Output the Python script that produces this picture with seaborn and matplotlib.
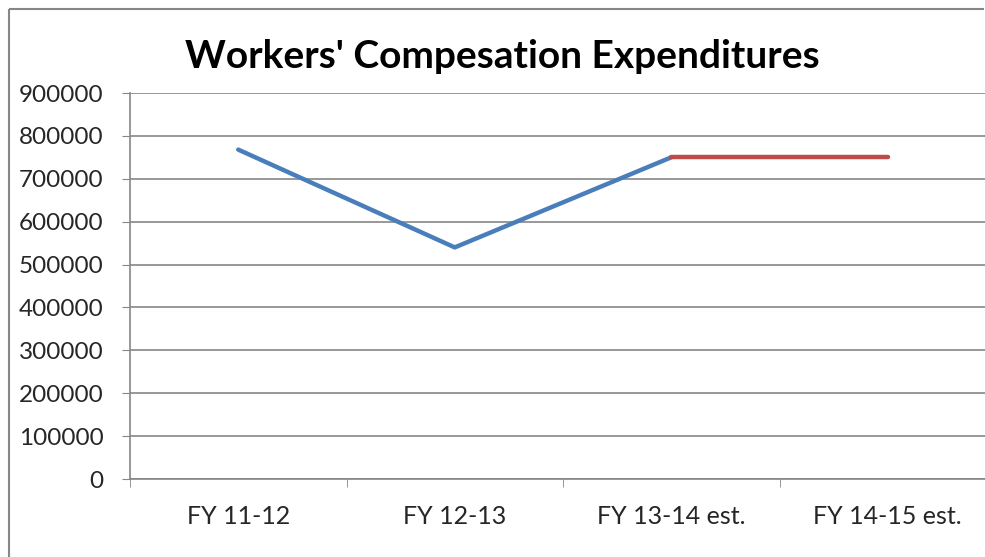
import pandas as pd
import numpy as np
import matplotlib.pyplot as plt
import seaborn as sns
from matplotlib.lines import Line2D

# values
categories = ["FY 11-12", "FY 12-13", "FY 13-14 est.", "FY 14-15 est."]
actual = [768000, 540000, 750000]
estimate = [750000, 750000]
yticks = [0, 100000, 200000, 300000, 400000, 500000, 600000, 700000, 800000, 900000]

sns.set_style("white")
plt.rcParams['font.family'] = ['Lato', 'DejaVu Sans']

actual_df = pd.DataFrame({'pos': range(len(actual)), 'value': actual})
est_df = pd.DataFrame({'pos': range(len(actual) - 1, len(categories)), 'value': estimate})

fig = plt.figure(figsize=(9.85, 5.57), dpi=100)
ax = fig.add_axes([130 / 985, 78 / 557, 855 / 985, 386 / 557])

sns.lineplot(data=actual_df, x='pos', y='value', color='#4a7ebb', linewidth=3.2, ax=ax)
sns.lineplot(data=est_df, x='pos', y='value', color='#be4b48', linewidth=3.2, ax=ax)

ax.set_yticks(yticks)
ax.set_yticklabels([str(v) for v in yticks], fontsize=17.5)
ax.set_xticks(range(len(categories)))
ax.set_xticklabels(categories, fontsize=18)
ax.set_xticks(np.arange(-0.5, 3, 1), minor=True)
# limits last, so the ticks don't widen them (the plot runs past the right edge)
ax.set_ylim(0, 900000)
ax.set_xlim(-0.5, 3.5 - 11 / 216.5)
ax.tick_params(axis='x', which='major', length=0, pad=19)
ax.tick_params(axis='x', which='minor', length=6, color='#868686', direction='out', bottom=True)
ax.tick_params(axis='y', length=6, color='#868686', direction='out', left=True, pad=13)
ax.grid(axis='y', color='#868686', linewidth=1.2)
ax.set_axisbelow(True)
ax.set_xlabel("")
ax.set_ylabel("")
sns.despine(ax=ax, top=True, right=True)
for side in ['left', 'bottom']:
    ax.spines[side].set_color('#868686')
    ax.spines[side].set_linewidth(1.2)

fig.text(502 / 985, 1 - 57 / 557, "Workers' Compesation Expenditures",
         ha='center', va='center', fontsize=28, fontweight='bold', color='black')

# outer chart frame (only left and top edges fall inside the picture)
fx = 8.5 / 985
fy = 1 - 8.5 / 557
fig.add_artist(Line2D([fx, fx], [0, fy], transform=fig.transFigure, color='#868686',
                      linewidth=1.5, solid_capstyle='butt'))
fig.add_artist(Line2D([fx, 1 - 1 / 985], [fy, fy], transform=fig.transFigure, color='#868686',
                      linewidth=1.5, solid_capstyle='butt'))

fig.savefig("out.png", dpi=100)
